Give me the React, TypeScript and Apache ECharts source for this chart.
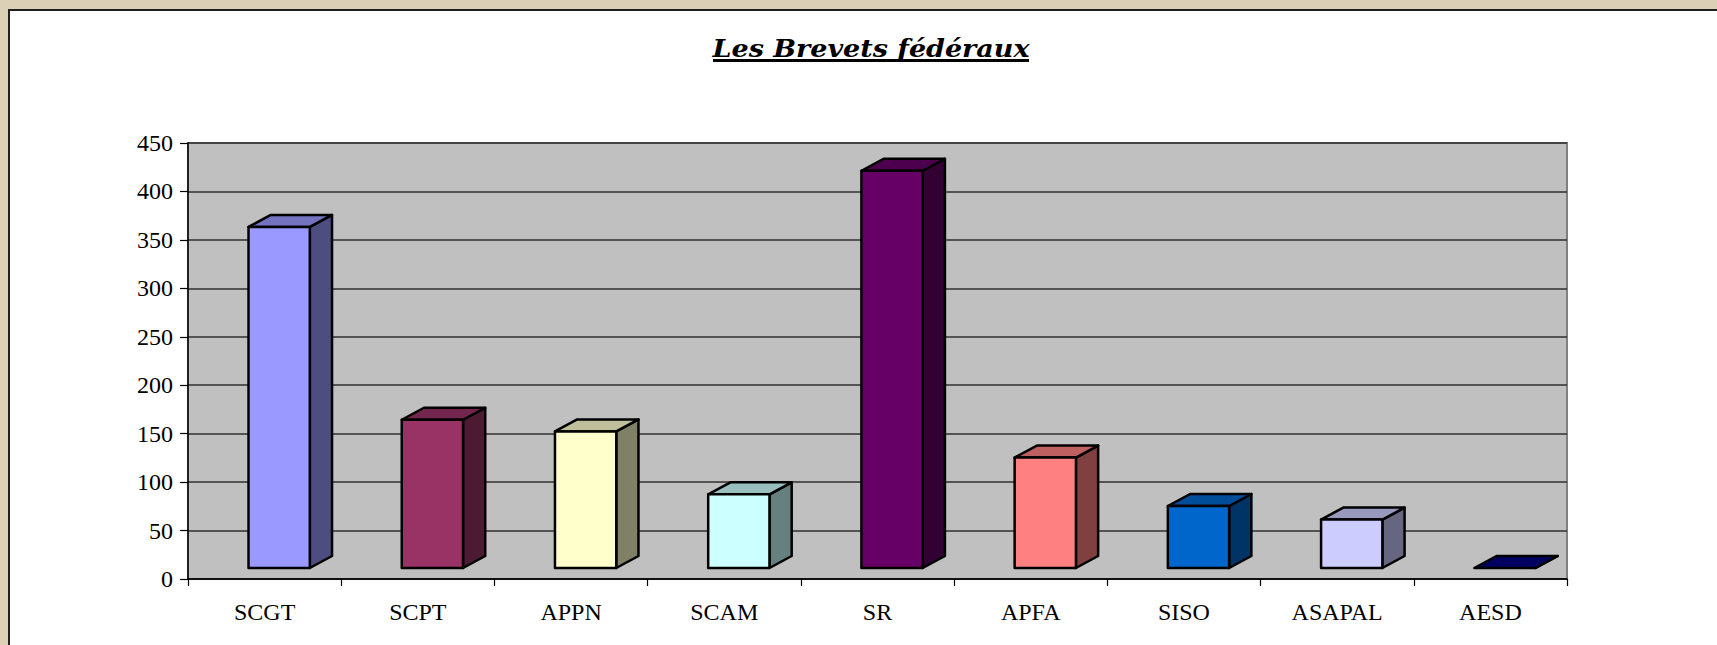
import React, { useEffect, useRef } from "react";
import * as echarts from "echarts";

const categories = ["SCGT", "SCPT", "APPN", "SCAM", "SR", "APFA", "SISO", "ASAPAL", "AESD"];
const values = [352, 153, 141, 76, 410, 114, 64, 50, 0];
const frontColors = ["#9999FF", "#993366", "#FFFFCC", "#CCFFFF", "#660066", "#FF8080", "#0066CC", "#CCCCFF", "#000080"];
const sideColors = ["#4D4D80", "#4D1A33", "#808066", "#668080", "#330033", "#804040", "#003366", "#666680", "#000040"];
const topColors = ["#7373BF", "#73264D", "#BFBF99", "#99BFBF", "#4D004D", "#BF6060", "#004D99", "#9999BF", "#000060"];
const yTicks = { min: 0, max: 450, interval: 50 };
const titleText = "Les Brevets fédéraux";

export default function App() {
  const ref = useRef<HTMLDivElement>(null);
  useEffect(() => {
    if (!ref.current) return;
    const chart = echarts.init(ref.current, undefined, { renderer: "svg" });
    const data = values.map((v, i) => [i, v]);
    chart.setOption({
      animation: false,
      backgroundColor: "#DCD1B6",
      graphic: [
        {
          type: "rect",
          z: -10,
          silent: true,
          shape: { x: 9, y: 10, width: 1717, height: 645 },
          style: { fill: "#FFFFFF", stroke: "#202020", lineWidth: 2 },
        },
        {
          type: "text",
          x: 871,
          y: 48,
          scaleX: 1.08,
          originX: 0,
          originY: 0,
          style: {
            text: titleText,
            fontFamily: "DejaVu Serif",
            fontWeight: "bold",
            fontStyle: "italic",
            fontSize: 25,
            fill: "#000",
            align: "center",
            verticalAlign: "middle",
          },
        },
        {
          type: "rect",
          shape: { x: 713, y: 59, width: 316, height: 3 },
          style: { fill: "#000" },
        },
      ],
      grid: {
        left: 188,
        right: 150,
        top: 143,
        bottom: 66,
        show: true,
        backgroundColor: "#C0C0C0",
        borderColor: "#808080",
        borderWidth: 2,
      },
      xAxis: {
        type: "category",
        data: categories,
        boundaryGap: true,
        axisLine: { show: true, lineStyle: { color: "#000", width: 1.5 } },
        axisTick: { show: true, interval: 0, length: 7, lineStyle: { color: "#000", width: 1.2 } },
        axisLabel: {
          interval: 0,
          margin: 21,
          fontFamily: "Liberation Serif",
          fontSize: 24,
          color: "#000",
        },
        splitLine: { show: false },
      },
      yAxis: {
        type: "value",
        min: yTicks.min,
        max: yTicks.max,
        interval: yTicks.interval,
        axisLine: { show: true, lineStyle: { color: "#000", width: 1.5 } },
        axisTick: { show: true, length: 8, lineStyle: { color: "#000", width: 1.2 } },
        axisLabel: {
          margin: 15,
          fontFamily: "Liberation Serif",
          fontSize: 24,
          color: "#000",
        },
        splitLine: { show: true, lineStyle: { color: "#303030", width: 1.5 } },
      },
      series: [
        {
          type: "custom",
          data,
          encode: { x: 0, y: 1 },
          renderItem: (params: any, api: any) => {
            const idx = api.value(0);
            const v = api.value(1);
            const base = api.coord([idx, 0]);
            const top = api.coord([idx, v]);
            const band = api.size([1, 0])[0];
            const fl = base[0] - band * 0.105;
            const w = band * 0.4;
            const fb = base[1] - 11;
            const ft = top[1] - 11;
            const dx = band * 0.145;
            const dy = 12;
            const stroke = { stroke: "#000", lineWidth: 2.5, lineJoin: "round" };
            const children: any[] = [];
            children.push({
              type: "polygon",
              shape: { points: [[fl + w, ft], [fl + w + dx, ft - dy], [fl + w + dx, fb - dy], [fl + w, fb]] },
              style: { fill: sideColors[idx], ...stroke },
            });
            children.push({
              type: "polygon",
              shape: { points: [[fl, ft], [fl + dx, ft - dy], [fl + w + dx, ft - dy], [fl + w, ft]] },
              style: { fill: topColors[idx], ...stroke },
            });
            if (fb - ft > 0.5) {
              children.push({
                type: "rect",
                shape: { x: fl, y: ft, width: w, height: fb - ft },
                style: { fill: frontColors[idx], ...stroke },
              });
            }
            return { type: "group", children };
          },
        },
      ],
    });
    return () => chart.dispose();
  }, []);
  return (
    <div style={{ position: "fixed", left: 0, top: 0, width: 1717, height: 645 }}>
      <div ref={ref} style={{ width: 1717, height: 645 }} />
    </div>
  );
}
